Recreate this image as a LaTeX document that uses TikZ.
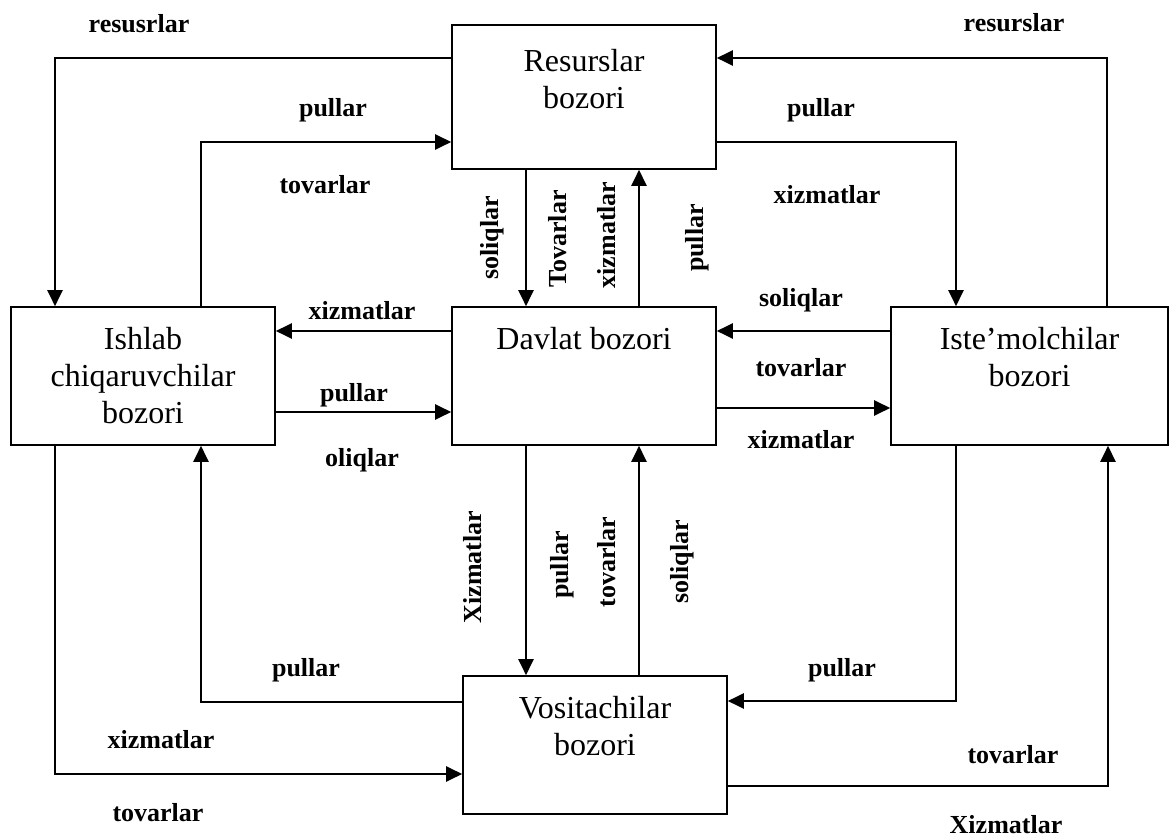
\documentclass[tikz,border=0pt]{standalone}
\usepackage{fontspec}
\setmainfont{Liberation Serif}
\usetikzlibrary{arrows.meta}
\tikzset{
  box/.style={draw,line width=0.8pt,minimum width=132pt,minimum height=69pt,inner sep=0pt},
  txt/.style={font=\fontsize{16}{18.5}\selectfont,align=center},
  lbl/.style={font=\bfseries\fontsize{13}{15}\selectfont,inner sep=0.5pt},
  flow/.style={line width=1.1pt,-{Triangle[length=8pt,width=7.5pt]}},
}

\begin{document}
\begin{tikzpicture}[x=0.5pt,y=-0.5pt]
\useasboundingbox (0,0) rectangle (1171,838);
% markets (pixel grid of the original, y running down)
\node[box,minimum height=72pt] (res) at (584,97) {};
\node[box] (ish) at (143,376) {};
\node[box] (dav) at (584,376) {};
\node[box,minimum width=138.5pt] (ist) at (1029.5,376) {};
\node[box] (vos) at (595,745) {};
\node[txt] (restxt) at (584,79) {Resurslar\\bozori};
\node[txt] (ishtxt) at (143,376) {Ishlab\\chiqaruvchilar\\bozori};
\node[txt] (davtxt) at (584,339) {Davlat bozori};
\node[txt] (isttxt) at (1029.5,357) {Iste’molchilar\\bozori};
\node[txt] (vostxt) at (595,726) {Vositachilar\\bozori};
% corners and lanes of the connectors
\coordinate (c1) at (55,58);
\coordinate (c2) at (201,142);
\coordinate (c3) at (1107,58);
\coordinate (c4) at (956,142);
\coordinate (c5) at (201,702);
\coordinate (c6) at (55,774);
\coordinate (c7) at (956,701);
\coordinate (c8) at (1108,786);
\coordinate (v1) at (526,0);
\coordinate (v2) at (639,0);
\coordinate (h1) at (0,331);
\coordinate (h2) at (0,412);
\coordinate (h3) at (0,408);
% outer loops
\draw[flow] (res.west |- c1) -| (ish.north -| c1);
\draw[flow] (ish.north -| c2) |- (res.west |- c2);
\draw[flow] (ist.north -| c3) |- (res.east |- c3);
\draw[flow] (res.east |- c4) -| (ist.north -| c4);
\draw[flow] (vos.west |- c5) -| (ish.south -| c5);
\draw[flow] (ish.south -| c6) |- (vos.west |- c6);
\draw[flow] (ist.south -| c7) |- (vos.east |- c7);
\draw[flow] (vos.east |- c8) -| (ist.south -| c8);
% links to the state market
\draw[flow] (res.south -| v1) -- (dav.north -| v1);
\draw[flow] (dav.north -| v2) -- (res.south -| v2);
\draw[flow] (dav.south -| v1) -- (vos.north -| v1);
\draw[flow] (vos.north -| v2) -- (dav.south -| v2);
\draw[flow] (dav.west |- h1) -- (ish.east |- h1);
\draw[flow] (ish.east |- h2) -- (dav.west |- h2);
\draw[flow] (ist.west |- h1) -- (dav.east |- h1);
\draw[flow] (dav.east |- h3) -- (ist.west |- h3);
% labels
\foreach \x/\y/\t in {139/24/resusrlar, 333/110/pullar, 325/185/tovarlar,
    1014/23/resurslar, 821/110/pullar, 827/195/xizmatlar,
    801/300/soliqlar, 801/368/tovarlar, 801/440/xizmatlar,
    362/311/xizmatlar, 354/395/pullar, 362/460/oliqlar,
    306/670/pullar, 161/740/xizmatlar, 158/813/tovarlar,
    842/670/pullar, 1013/755/tovarlar, 1006/825/Xizmatlar}
  \node[lbl] at (\x,\y) {\t};
\foreach \x/\y/\t in {492/238/soliqlar, 558/239/Tovarlar, 607/235/xizmatlar,
    697/238/pullar, 473/567/Xizmatlar, 562/565/pullar,
    607/562/tovarlar, 682/562/soliqlar}
  \node[lbl,rotate=90] at (\x,\y) {\t};
\end{tikzpicture}
\end{document}
